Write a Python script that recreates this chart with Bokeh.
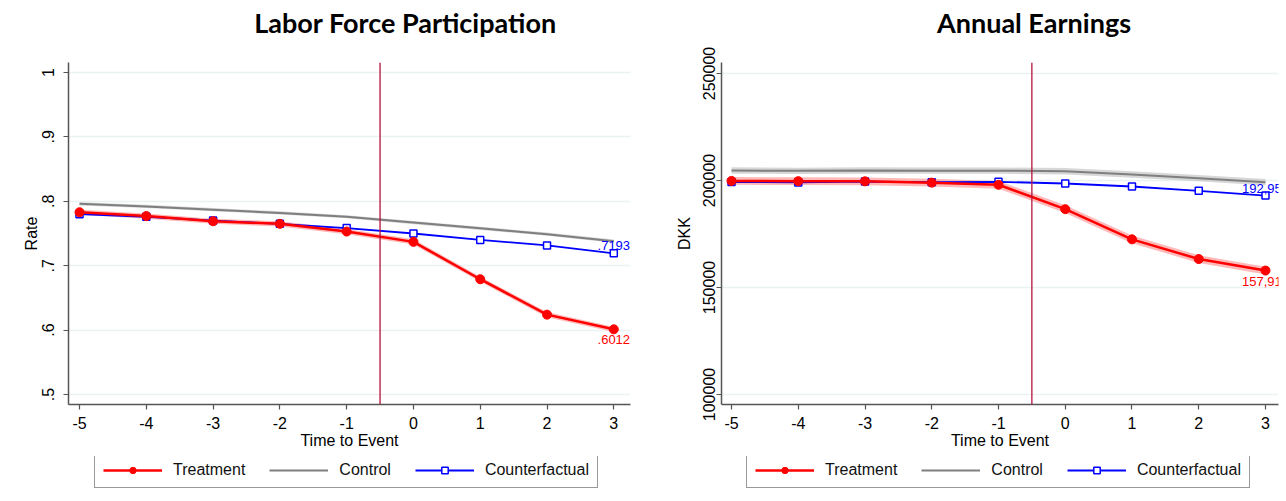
from bokeh.plotting import figure
from bokeh.layouts import row, column
from bokeh.models import (FixedTicker, Span, Label, Legend, LegendItem, Range1d)
from bokeh.embed import file_html
from bokeh.resources import INLINE

# ---------------- data ----------------
time_to_event = [-5, -4, -3, -2, -1, 0, 1, 2, 3]
time_labels = ["-5", "-4", "-3", "-2", "-1", "0", "1", "2", "3"]

lfp_treat = [0.783, 0.777, 0.769, 0.765, 0.753, 0.737, 0.679, 0.624, 0.6012]
lfp_treat_lo = [0.779, 0.773, 0.765, 0.761, 0.749, 0.733, 0.675, 0.620, 0.597]
lfp_treat_hi = [0.787, 0.781, 0.773, 0.769, 0.757, 0.741, 0.683, 0.628, 0.605]
lfp_ctrl = [0.796, 0.792, 0.787, 0.782, 0.776, 0.767, 0.758, 0.749, 0.738]
lfp_ctrl_lo = [0.7935, 0.7895, 0.7845, 0.7795, 0.7735, 0.7645, 0.7555, 0.7465, 0.7355]
lfp_ctrl_hi = [0.7985, 0.7945, 0.7895, 0.7845, 0.7785, 0.7695, 0.7605, 0.7515, 0.7405]
lfp_cf = [0.780, 0.776, 0.770, 0.765, 0.7585, 0.750, 0.740, 0.7315, 0.7193]

earn_treat = [199800, 199700, 199600, 199000, 198000, 186600, 172500, 163300, 157919]
earn_treat_lo = [198000, 197900, 197800, 197200, 196200, 184800, 170700, 161500, 156119]
earn_treat_hi = [201600, 201500, 201400, 200800, 199800, 188400, 174300, 165100, 159719]
earn_ctrl = [204700, 204500, 204700, 204600, 204600, 204300, 202800, 201100, 199200]
earn_ctrl_lo = [203200, 203000, 203200, 203100, 203100, 202800, 201300, 199600, 197700]
earn_ctrl_hi = [206200, 206000, 206200, 206100, 206100, 205800, 204300, 202600, 200700]
earn_cf = [199300, 199100, 199500, 199200, 199400, 198600, 197200, 195200, 192955]

lfp_ticks = [0.5, 0.6, 0.7, 0.8, 0.9, 1.0]
lfp_tick_labels = [".5", ".6", ".7", ".8", ".9", "1"]
earn_ticks = [100000, 150000, 200000, 250000]
earn_tick_labels = ["100000", "150000", "200000", "250000"]

legend_labels = ["Treatment", "Control", "Counterfactual"]

event_line_x = -0.5

FONT = "Liberation Sans"
RED = "#ff0000"
BLUE = "#0000ff"
GRAY = "#7f7f7f"
AXIS = "#555555"
PANEL_W = 643


def strip(height, bl, br, xr, yr):
    s = figure(width=PANEL_W, height=height, output_backend="svg", toolbar_location=None,
               x_axis_type=None, y_axis_type=None,
               x_range=Range1d(*xr), y_range=Range1d(*yr),
               min_border_left=bl, min_border_right=br, min_border_top=0,
               min_border_bottom=0)
    s.outline_line_color = None
    s.border_fill_color = "white"
    s.background_fill_color = "white"
    return s


def make_panel(title, ylab, treat, tlo, thi, ctrl, clo, chi, cf, xr, yr, ticks, tick_labels,
               bl, br, label_fmt, title_x, tick_standoff, ylab_standoff, legend_dx):
    # ---- title strip (its x range is in pixels of the panel) ----
    t = strip(44, bl, br, (bl, PANEL_W - br), (0, 44))
    t.add_layout(Label(x=title_x, y=22, text=title, text_align="center",
                       text_baseline="middle", text_font="Lato", text_font_style="bold",
                       text_font_size="27px", text_color="black"))

    # ---- main plot ----
    p = figure(width=PANEL_W, height=412, output_backend="svg", toolbar_location=None,
               x_range=Range1d(*xr), y_range=Range1d(*yr),
               min_border_left=bl, min_border_right=br,
               min_border_top=18, min_border_bottom=52)
    p.outline_line_color = None
    p.background_fill_color = "white"
    p.border_fill_color = "white"

    p.xaxis.ticker = FixedTicker(ticks=time_to_event)
    p.xaxis.major_label_overrides = {t_: l for t_, l in zip(time_to_event, time_labels)}
    p.yaxis.ticker = FixedTicker(ticks=ticks)
    p.yaxis.major_label_overrides = {t_: l for t_, l in zip(ticks, tick_labels)}
    p.yaxis.major_label_orientation = "vertical"
    p.xaxis.axis_label = "Time to Event"
    p.yaxis.axis_label = ylab
    for ax in (p.xaxis, p.yaxis):
        ax.axis_line_color = AXIS
        ax.axis_line_width = 1.5
        ax.major_tick_line_color = AXIS
        ax.major_tick_line_width = 1.2
        ax.major_tick_out = 5
        ax.major_tick_in = 0
        ax.minor_tick_line_color = None
        ax.major_label_text_font = FONT
        ax.major_label_text_font_size = "16px"
        ax.major_label_text_color = "black"
        ax.axis_label_text_font = FONT
        ax.axis_label_text_font_size = "16px"
        ax.axis_label_text_font_style = "normal"
        ax.axis_label_text_color = "black"
    p.xaxis.major_label_standoff = 7
    p.xaxis.axis_label_standoff = 0
    p.yaxis.major_label_standoff = tick_standoff
    p.yaxis.axis_label_standoff = ylab_standoff

    p.xgrid.grid_line_color = None
    p.ygrid.grid_line_color = "#eaf2f3"
    p.ygrid.grid_line_width = 1.5

    p.varea(x=time_to_event, y1=clo, y2=chi, fill_color="#bdbdbd", fill_alpha=0.6)
    p.varea(x=time_to_event, y1=tlo, y2=thi, fill_color="#ff8080", fill_alpha=0.55)

    p.line(time_to_event, ctrl, line_color=GRAY, line_width=2)
    p.line(time_to_event, cf, line_color=BLUE, line_width=1.8)
    p.scatter(time_to_event, cf, marker="square", size=7, line_color=BLUE,
              line_width=1.5, fill_color="white")
    p.line(time_to_event, treat, line_color=RED, line_width=2.5)
    p.scatter(time_to_event, treat, marker="circle", size=9, line_color=RED,
              fill_color=RED)

    p.add_layout(Span(location=event_line_x, dimension="height", line_color="#b5123e",
                      line_width=1.3))

    p.add_layout(Label(x=time_to_event[-1], y=cf[-1], text=label_fmt(cf[-1]),
                       text_align="center", text_baseline="bottom", y_offset=3,
                       text_font=FONT, text_font_size="13px", text_color=BLUE))
    p.add_layout(Label(x=time_to_event[-1], y=treat[-1], text=label_fmt(treat[-1]),
                       text_align="center", text_baseline="top", y_offset=-6,
                       text_font=FONT, text_font_size="13px", text_color=RED))

    # ---- legend strip (proxy renderers lie outside its range) ----
    q = strip(40, bl, br, (0, 1), (0, 1))
    off = [-10, -9]
    r1 = q.line(x=off, y=off, line_color=RED, line_width=2.5)
    r1b = q.scatter(x=off, y=off, marker="circle", size=9, line_color=RED, fill_color=RED)
    r2 = q.line(x=off, y=off, line_color=GRAY, line_width=2)
    r3 = q.line(x=off, y=off, line_color=BLUE, line_width=1.8)
    r3b = q.scatter(x=off, y=off, marker="square", size=7, line_color=BLUE,
                    line_width=1.5, fill_color="white")
    legend = Legend(items=[
        LegendItem(label=legend_labels[0], renderers=[r1, r1b]),
        LegendItem(label=legend_labels[1], renderers=[r2]),
        LegendItem(label=legend_labels[2], renderers=[r3, r3b]),
    ], orientation="horizontal", location=(legend_dx, 8))
    legend.glyph_width = 59
    legend.glyph_height = 16
    legend.label_standoff = 11
    legend.spacing = 24
    legend.padding = 8
    legend.margin = 0
    legend.label_text_font = FONT
    legend.label_text_font_size = "16px"
    legend.label_text_color = "#111111"
    legend.border_line_color = "#333333"
    legend.border_line_width = 1.2
    legend.background_fill_color = "white"
    q.add_layout(legend)
    return column(t, p, q, spacing=0)


def lfp_fmt(v):
    return f"{v:.4f}".lstrip("0")


def earn_fmt(v):
    return f"{v:,.0f}"


p1 = make_panel("Labor Force Participation", "Rate", lfp_treat, lfp_treat_lo, lfp_treat_hi,
                lfp_ctrl, lfp_ctrl_lo, lfp_ctrl_hi, lfp_cf, (-5.165, 3.25), (0.4845, 1.0155),
                lfp_ticks, lfp_tick_labels, 68, 13, lfp_fmt, 405, 9, 0, 26)
p2 = make_panel("Annual Earnings", "DKK", earn_treat, earn_treat_lo, earn_treat_hi,
                earn_ctrl, earn_ctrl_lo, earn_ctrl_hi, earn_cf, (-5.15, 3.195), (95330, 255140),
                earn_ticks, earn_tick_labels, 78, 8, earn_fmt, 390.5, 1, 8, 25)

layout = row(p1, p2, spacing=0)
open("out.html", "w").write(file_html(layout, INLINE))
